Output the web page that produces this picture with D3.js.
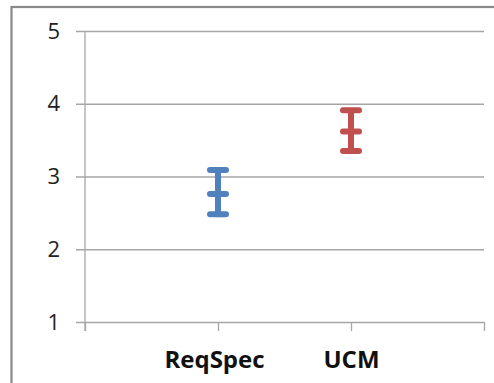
<!DOCTYPE html>
<html>
<head>
<meta charset="utf-8">
<script src="https://cdn.jsdelivr.net/npm/d3@7"></script>
<style>
  html, body { margin: 0; padding: 0; background: #fff; }
  svg { display: block; }
</style>
</head>
<body>
<svg id="chart" width="494" height="383"></svg>
<script>
// Mean score with its low/high interval, per artefact
const categories = ["ReqSpec", "UCM"];
const means = [2.76, 3.62];
const highs = [3.09, 3.91];
const lows = [2.48, 3.35];
const colors = ["#4F81BD", "#C0504D"];
const yTicks = [1, 2, 3, 4, 5];

const W = 494, H = 383;
const svg = d3.select("#chart");
const font = "'Open Sans', Lato, sans-serif";

// Frame around the chart area
svg.append("rect")
  .attr("x", 11.5).attr("y", 7)
  .attr("width", W + 20).attr("height", H + 20)
  .attr("fill", "#fff")
  .attr("stroke", "#898989").attr("stroke-width", 2.2);

// Categories sit on tick marks, with an empty slot on each side
const slots = ["", ...categories, " "];
const x = d3.scalePoint().domain(slots).range([85, 484]);
const y = d3.scaleLinear().domain([1, 5]).range([322, 31]);

const gridColor = "#A6A6A6";

// Horizontal gridlines + y labels
const yAxis = svg.append("g")
  .attr("transform", `translate(${x.range()[0]},0)`)
  .call(d3.axisLeft(y).tickValues(yTicks).tickSize(9).tickSizeOuter(0).tickPadding(16)
    .tickFormat(d3.format("d")));
yAxis.select(".domain").remove();
yAxis.selectAll(".tick line")
  .attr("x1", -9).attr("x2", x.range()[1] - x.range()[0])
  .attr("stroke", gridColor).attr("stroke-width", 1.3);
yAxis.selectAll(".tick text")
  .attr("font-family", font).attr("font-size", 22).attr("fill", "#222");

// Vertical axis line
svg.append("line")
  .attr("x1", 85).attr("x2", 85)
  .attr("y1", y(5)).attr("y2", y(1) + 9)
  .attr("stroke", gridColor).attr("stroke-width", 1.3);

// Category axis with tick marks below the baseline
const xAxis = svg.append("g")
  .attr("transform", `translate(0,${y(1)})`)
  .call(d3.axisBottom(x).tickSize(9).tickSizeOuter(0).tickPadding(20));
xAxis.select(".domain").remove();
xAxis.selectAll(".tick line").attr("stroke", gridColor).attr("stroke-width", 1.3);
xAxis.selectAll(".tick text")
  .attr("font-family", font).attr("font-size", 24).attr("font-weight", "bold").attr("fill", "#111")
  .attr("dx", d => d === "ReqSpec" ? -4 : 0);

// Error bars: whisker from low to high, caps at low, mean and high
const capHalf = 8;
const bars = svg.append("g").selectAll("g")
  .data(categories.map((c, i) => ({ c, mean: means[i], hi: highs[i], lo: lows[i], color: colors[i] })))
  .join("g")
  .attr("stroke", d => d.color)
  .attr("stroke-width", 6)
  .attr("stroke-linecap", "round");

bars.append("line")
  .attr("x1", d => x(d.c)).attr("x2", d => x(d.c))
  .attr("y1", d => y(d.hi)).attr("y2", d => y(d.lo))
  .attr("stroke-linecap", "butt");

["hi", "mean", "lo"].forEach(k => {
  bars.append("line")
    .attr("x1", d => x(d.c) - capHalf).attr("x2", d => x(d.c) + capHalf)
    .attr("y1", d => y(d[k])).attr("y2", d => y(d[k]));
});
</script>
</body>
</html>
